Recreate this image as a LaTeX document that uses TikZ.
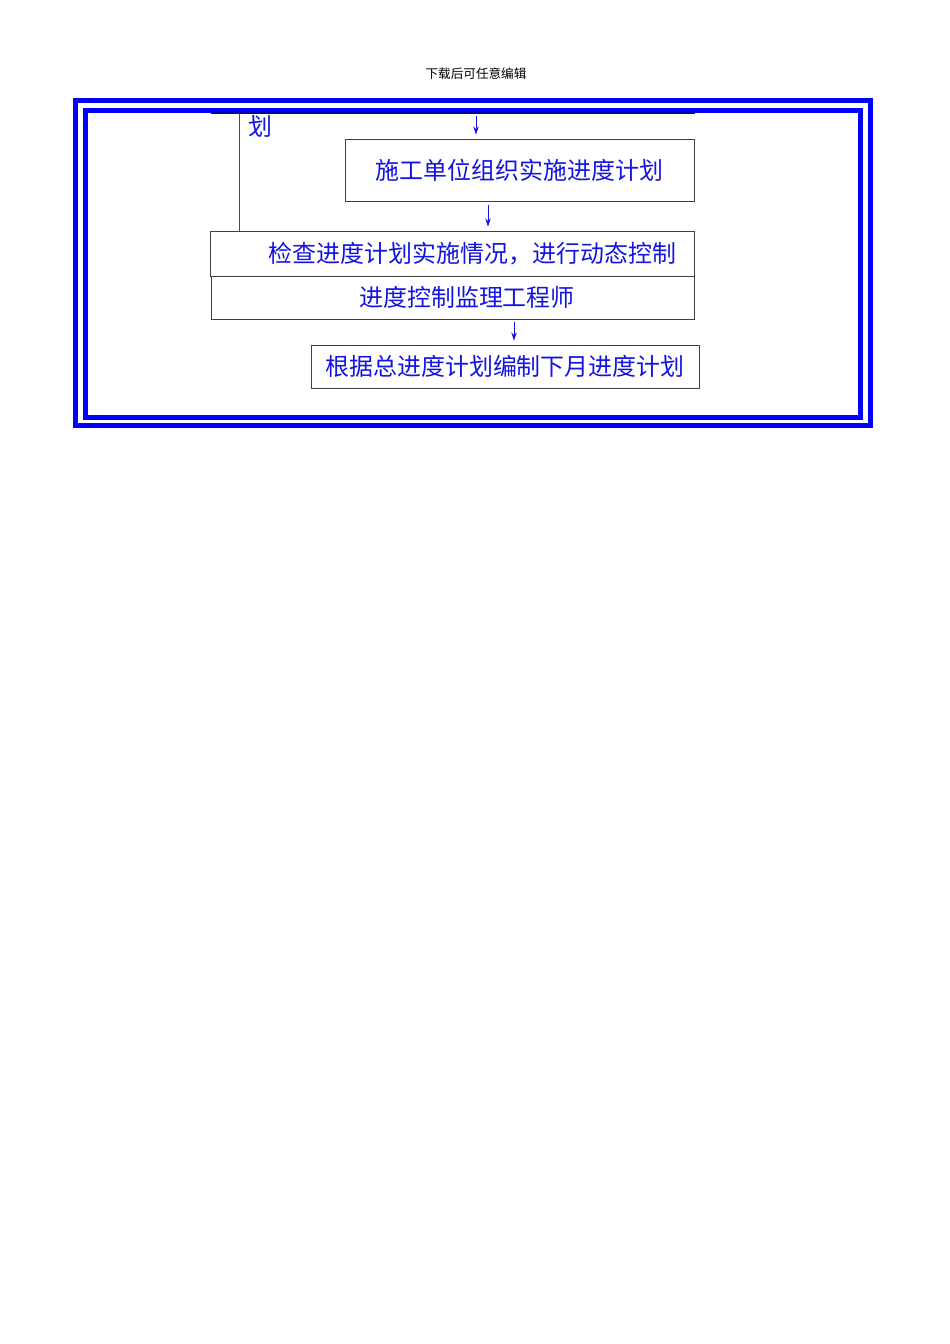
\documentclass[tikz,border=0pt]{standalone}
\usepackage{fontspec}
\setmainfont{Noto Sans CJK SC}
\usetikzlibrary{arrows.meta}
\definecolor{planblue}{RGB}{20,20,225}
\definecolor{framenavy}{RGB}{0,0,150}
\tikzset{
  stepbox/.style={draw=black!75, line width=0.6pt, inner sep=0pt, text=planblue,
    font=\fontsize{15}{18}\selectfont},
  flowarrow/.style={draw=planblue, line width=0.6pt, -{Stealth[length=5pt,width=3.4pt]}},
  framebar/.style={draw=blue, line width=3.1pt}
}
\begin{document}
\begin{tikzpicture}[x=0.6263pt, y=-0.6263pt]
\useasboundingbox (0,0) rectangle (950,1344);
\fill[white] (0,0) rectangle (950,1344);

% page header
\node (hdr) at (476,74) [font=\fontsize{7.9}{9}\selectfont] {下载后可任意编辑};

% double frame
\draw[framebar] (75.5,100.5) rectangle (870.5,425.5);
\draw[framebar] (85.5,110.5) rectangle (860.5,417.5);
\draw[framenavy, line width=0.9pt] (211,113) -- (695,113);

% boxes
\node (exec) at (519.5,170) [stepbox, minimum width=218.6pt, minimum height=38.8pt] {施工单位组织实施进度计划};
\node (check) at (452.5,253.5) [stepbox, minimum height=28.2pt, text width=280pt, inner xsep=11.3pt, align=right] {检查进度计划实施情况，进行动态控制};
\node (engr) at (452.5,297.5) [stepbox, minimum width=302.5pt, minimum height=26.9pt] {\hspace{18.2pt}进度控制监理工程师};
\node (next) at (505,366.5) [stepbox, minimum width=243pt, minimum height=26.9pt] {根据总进度计划编制下月进度计划};

% cut-off text and line from above
\node (tail) at (260,126) [text=planblue, font=\fontsize{15}{18}\selectfont] {划};
\coordinate (back) at (239.5,113);
\draw[black!70, line width=0.6pt] (back) -- (back |- check.north);

% arrows
\coordinate (in1) at (476,116);
\coordinate (a2) at (488,205);
\coordinate (a3) at (514,322);
\draw[flowarrow] (in1) -- ([yshift=2.5pt]in1 |- exec.north);
\draw[flowarrow] (a2) -- ([yshift=2.5pt]a2 |- check.north);
\draw[flowarrow] (a3) -- ([yshift=2.5pt]a3 |- next.north);
\end{tikzpicture}
\end{document}
